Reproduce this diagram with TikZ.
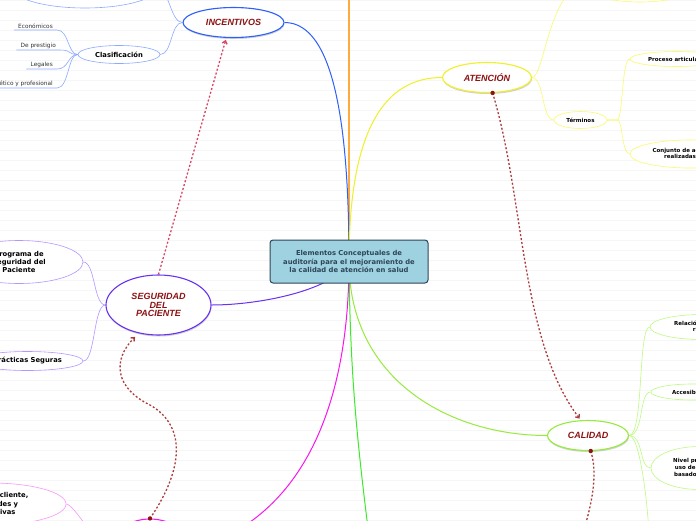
\documentclass[tikz,border=0pt]{standalone}
\usepackage{fontspec}
\setmainfont{DejaVu Sans}
\newfontfamily\topicfont{Liberation Sans}
\usepackage{xcolor}
\usetikzlibrary{arrows.meta,shapes.geometric,shadows,backgrounds}
\definecolor{rootfill}{RGB}{158,210,224}
\definecolor{rootline}{RGB}{45,70,88}
\definecolor{topictext}{RGB}{140,20,20}
\definecolor{relred}{RGB}{170,60,60}
\definecolor{relpink}{RGB}{215,70,100}
\definecolor{stripe}{RGB}{246,246,246}
\definecolor{cblue}{RGB}{45,95,250}
\definecolor{lblue}{RGB}{140,170,255}
\definecolor{cyellow}{RGB}{240,240,40}
\definecolor{lyellow}{RGB}{250,250,110}
\definecolor{cgreen}{RGB}{150,235,60}
\definecolor{lgreen}{RGB}{190,250,130}
\definecolor{cgreenb}{RGB}{60,235,40}
\definecolor{cpurple}{RGB}{105,50,240}
\definecolor{lpurple}{RGB}{180,150,255}
\definecolor{cmagenta}{RGB}{250,20,240}
\definecolor{lmagenta}{RGB}{250,150,250}
\definecolor{corange}{RGB}{255,170,60}

\begin{document}
\begin{tikzpicture}[
x=1pt,y=-1pt,
root/.style={draw=rootline,line width=1pt,fill=rootfill,rounded corners=3pt,minimum width=158pt,minimum height=43pt,align=center,text=rootline,font=\bfseries\fontsize{6.8}{8.3}\selectfont},
topic/.style={ellipse,draw,line width=1.1pt,fill=white,inner sep=0pt,align=center,text=topictext,font=\topicfont\bfseries\itshape\fontsize{9}{8.5}\selectfont,drop shadow={shadow xshift=0.5pt,shadow yshift=-1.5pt,opacity=0.35,fill=gray}},
sub/.style={ellipse,draw,line width=0.6pt,fill=white,inner sep=0pt,align=center,font=\bfseries\fontsize{5.5}{6.7}\selectfont},
big/.style={font=\bfseries\fontsize{6.8}{8.3}\selectfont},
word/.style={inner xsep=4pt,inner ysep=1.5pt,text=black!80,font=\fontsize{5.8}{6}\selectfont},
branch/.style={line width=1pt},
twig/.style={line width=0.6pt},
stripes/.style={draw=stripe,line width=1pt},
rel/.style={draw=relred,line width=1.3pt,dash pattern=on 2pt off 2pt},
>={Straight Barb[length=3pt,width=5pt]}
]
\useasboundingbox (0,0) rectangle (696,520);
\clip (0,0) rectangle (696,520);

\node[root] (root) at (349,261.5) {Elementos Conceptuales de\\auditoría para el mejoramiento de\\la calidad de atención en salud};
\node[topic,draw=cblue,minimum width=101pt,minimum height=30pt] (inc) at (233.5,22.5) {INCENTIVOS};
\node[topic,draw=cyellow,minimum width=89pt,minimum height=30pt] (aten) at (487,77.5) {ATENCIÓN};
\node[topic,draw=cgreen,minimum width=81pt,minimum height=30pt] (cal) at (588,435.5) {CALIDAD};
\node[topic,draw=cpurple,minimum width=105pt,minimum height=60pt] (seg) at (158.5,305) {SEGURIDAD\\DEL\\PACIENTE};
\node[topic,draw=cmagenta,minimum width=80pt,minimum height=62pt] (sat) at (150,550) {};

\node[sub,draw=lblue,minimum width=144pt,minimum height=40pt] (incx) at (85,-12) {};
\node[sub,draw=lblue,big,minimum width=82pt,minimum height=18pt] (clas) at (119,54.5) {Clasificación};
\node[word,anchor=south east] (eco) at (57,30) {Económicos};
\node[word,anchor=south east] (pres) at (60,50) {De prestigio};
\node[word,anchor=south east] (leg) at (57,69) {Legales};
\node[word,anchor=south east] (etic) at (57,88) {Carácter ético y profesional};

\node[sub,draw=lpurple,big,minimum width=128pt,minimum height=43pt] (prog) at (19,262) {Programa de\\Seguridad del\\Paciente};
\node[sub,draw=lpurple,big,minimum width=111pt,minimum height=19pt] (prac) at (27.5,361) {Prácticas Seguras};
\node[sub,draw=lmagenta,big,minimum width=150pt,minimum height=42pt] (opin) at (-9,504) {Opinión del cliente,\\necesidades y\\expectativas};

\node[sub,draw=lyellow,minimum width=110pt,minimum height=32pt] (atenx) at (640,-14) {};
\node[sub,draw=lyellow,minimum width=53pt,minimum height=17pt] (term) at (580.5,120) {Términos};
\node[sub,draw=lyellow,minimum width=94pt,minimum height=15pt] (proc) at (677,59) {Proceso articulado};
\node[sub,draw=lyellow,minimum width=120pt,minimum height=28pt] (conj) at (690,154) {Conjunto de actividades\\realizadas por el};

\node[sub,draw=lgreen,minimum width=105pt,minimum height=25pt] (relb) at (702.5,327) {Relación beneficio\\riesgo};
\node[sub,draw=lgreen,minimum width=83pt,minimum height=16pt] (acc) at (692.5,392) {Accesibilidad};
\node[sub,draw=lgreen,minimum width=97pt,minimum height=43pt] (niv) at (699.5,468) {Nivel profesional\\uso de recursos\\basado en guías};

\coordinate (up) at (349,-40);
\coordinate (down) at (372,560);
\coordinate (tj) at (617,120);
\coordinate (calx) at (650,560);
\coordinate (calr) at (574,560);

\begin{scope}[on background layer]
\fill[white] (0,0) rectangle (696,520);
\foreach \k in {0,10,...,520} \draw[stripes] (0,\k) -- (696,\k);
\draw[branch,corange,line width=1.5pt] (root.center) -- (up);
\draw[branch,cblue] (root.center) .. controls (349,130) and (335,22.5) .. (inc.east);
\draw[branch,cyellow] (root.center) .. controls (349,120) and (390,77.5) .. (aten.west);
\draw[branch,cgreen] (root.center) .. controls (349,380) and (450,435.5) .. (cal.west);
\draw[branch,cgreenb] (root.center) .. controls (350,380) and (358,450) .. (down);
\draw[branch,cmagenta] (root.center) .. controls (349,410) and (300,520) .. (sat.east);
\draw[branch,cpurple] (root.center) .. controls (335,290) and (260,305) .. (seg.east);

\draw[twig,lblue] (inc.west) .. controls +(-12,0) and +(12,0) .. (clas.east);
\draw[twig,lblue] (inc.west) .. controls +(-12,0) and +(12,0) .. (incx.east);
\foreach \leaf in {eco,pres,leg,etic}
  \draw[twig,lblue] (\leaf.south west) -- (\leaf.south east) .. controls +(12,0) and +(-10,0) .. (clas.west);

\draw[twig,lpurple] (seg.west) .. controls +(-12,0) and +(12,0) .. (prog.east);
\draw[twig,lpurple] (seg.west) .. controls +(-12,0) and +(12,0) .. (prac.east);
\draw[twig,lmagenta] (sat.west) .. controls +(-10,0) and +(8,0) .. (opin.east);

\draw[twig,lyellow] (aten.east) .. controls +(12,0) and +(-12,0) .. (term.west);
\draw[twig,lyellow] (aten.east) .. controls +(12,0) and +(-35,0) .. (atenx.west);
\draw[twig,lyellow] (term.east) -- (tj) .. controls +(6,0) and +(-8,0) .. (proc.west);
\draw[twig,lyellow] (term.east) -- (tj) .. controls +(6,0) and +(-8,0) .. (conj.west);

\draw[twig,lgreen] (cal.east) .. controls +(15,0) and +(-12,0) .. (relb.west);
\draw[twig,lgreen] (cal.east) .. controls +(15,0) and +(-12,0) .. (acc.west);
\draw[twig,lgreen] (cal.east) .. controls +(15,0) and +(-12,0) .. (niv.west);
\draw[twig,lgreen] (cal.east) .. controls +(12,0) and +(0,-40) .. (calx);
\end{scope}

\draw[rel,draw=relpink,->,shorten >=2pt] (seg.north) -- (inc.245);
\draw[rel,->,shorten >=2pt] (aten.290) .. controls (525,200) and (520,340) .. (cal.115);
\fill[topictext] (aten.290) circle (2.2pt);
\draw[rel] (cal.280) .. controls (600,480) and (588,520) .. (calr);
\fill[topictext] (cal.280) circle (2.2pt);
\draw[rel,->,shorten >=5pt] (sat.north) .. controls (180,475) and (190,428) .. (150,405) .. controls (115,388) and (112,360) .. (seg.235);
\fill[topictext] (sat.north) circle (2.2pt);
\end{tikzpicture}
\end{document}
